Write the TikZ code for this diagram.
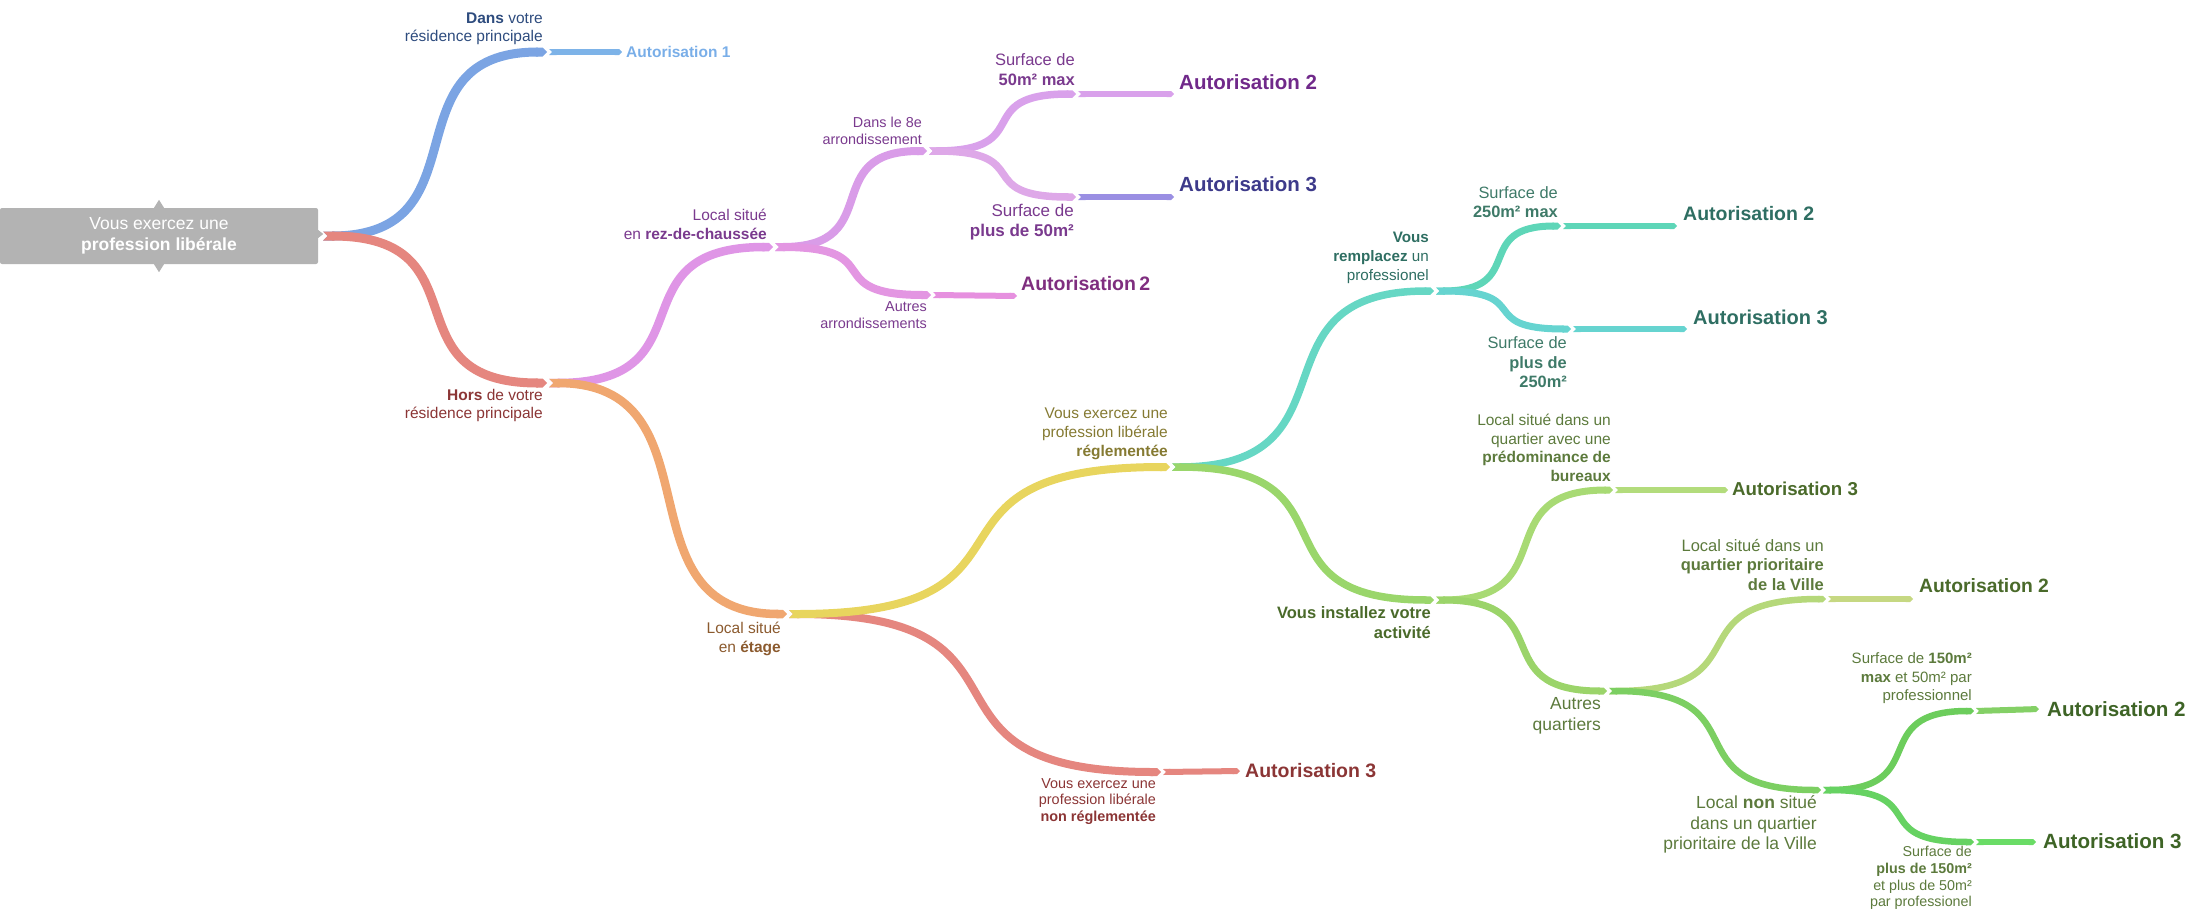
\documentclass[tikz,border=0pt]{standalone}
\usepackage{fontspec}
\setmainfont{Liberation Sans}
\usetikzlibrary{arrows.meta,calc}
\definecolor{cRoot}{HTML}{B3B3B3}
\definecolor{cBlue}{HTML}{7BA4E3}
\definecolor{cBlueL}{HTML}{7DB3E8}
\definecolor{tBlueD}{HTML}{2E4C7E}
\definecolor{tBlueL}{HTML}{79AEE8}
\definecolor{cRed}{HTML}{E5867F}
\definecolor{tRed}{HTML}{8B3535}
\definecolor{cPink}{HTML}{DF95E6}
\definecolor{cPurpA}{HTML}{D99CE8}
\definecolor{cPurpB}{HTML}{D9A1EB}
\definecolor{cPurpC}{HTML}{DEA8E8}
\definecolor{cIndigo}{HTML}{9A8FE3}
\definecolor{cPinkB}{HTML}{E396E2}
\definecolor{cPinkLeaf}{HTML}{E690DF}
\definecolor{tPurp}{HTML}{7A3A8E}
\definecolor{tPurpD}{HTML}{70298A}
\definecolor{tIndigo}{HTML}{3D3A8A}
\definecolor{tMag}{HTML}{7F2E7F}
\definecolor{cOrange}{HTML}{F0A770}
\definecolor{tBrown}{HTML}{8B5A2E}
\definecolor{cYellow}{HTML}{E8D55E}
\definecolor{tOlive}{HTML}{857A32}
\definecolor{cTeal}{HTML}{66D7C4}
\definecolor{cTealB}{HTML}{5ED6B8}
\definecolor{cTealC}{HTML}{66D4D0}
\definecolor{tTeal}{HTML}{2E6E62}
\definecolor{tTealL}{HTML}{3E7A68}
\definecolor{cGreen}{HTML}{9AD66B}
\definecolor{cGreenB}{HTML}{A8DA74}
\definecolor{cLeafF}{HTML}{B3DC7C}
\definecolor{cGreenC}{HTML}{9BD46A}
\definecolor{cGreenD}{HTML}{B5D87A}
\definecolor{cLeafH}{HTML}{C6D882}
\definecolor{cGreenE}{HTML}{7CCF62}
\definecolor{cGreenF}{HTML}{6CCD5C}
\definecolor{cLeafJ}{HTML}{84D066}
\definecolor{cGreenG}{HTML}{66D262}
\definecolor{cLeafK}{HTML}{6ADC66}
\definecolor{tGreen}{HTML}{5C7A3C}
\definecolor{tGreenD}{HTML}{4A6A2A}
\definecolor{tGreenA}{HTML}{3E6426}
\newcommand\myfs[2]{\fontsize{#1}{#2}\selectfont}
\tikzset{
  sbend/.style={to path={let \p1=(\tikztostart), \p2=(\tikztotarget) in
     .. controls ({\x1+0.73*(\x2-\x1)},\y1) and ({\x1+0.27*(\x2-\x1)},\y2) .. (\tikztotarget)}},
  br/.style={draw=#1, {Triangle Cap[reversed]}-{Triangle Cap}, shorten >=2pt},
  lf/.style={draw=#1, line width=6pt, {Triangle Cap[reversed]}-{Triangle Cap}},
  lbl/.style={anchor=east, align=right, inner sep=0pt, text=#1},
  aut/.style={anchor=west, inner sep=0pt, text=#1},
}
\begin{document}
\begin{tikzpicture}[x=1pt,y=-1pt]
\useasboundingbox (0,0) rectangle (2190,910);
% root
\node[fill=cRoot, rounded corners=2pt, minimum width=318pt, minimum height=56pt, inner sep=0pt,
      text=white, align=center, font=\myfs{17.5}{21}] (root) at (159,236)
      {Vous exercez une\\\textbf{profession libérale}};
\fill[cRoot] ($(root.north)+(-5,0)$) -- ($(root.north)+(0,-8)$) -- ($(root.north)+(5,0)$) -- cycle;
\fill[cRoot] ($(root.south)+(-5,0)$) -- ($(root.south)+(0,8)$) -- ($(root.south)+(5,0)$) -- cycle;
\fill[cRoot] ($(root.east)+(0,-6)$) -- ($(root.east)+(5,-2)$) -- ($(root.east)+(0,2)$) -- cycle;
% junction coordinates
\coordinate (R) at (323,236);
\coordinate (N1) at (549,52);   \coordinate (E1) at (622,52);
\coordinate (N2) at (549,383);
\coordinate (N3) at (775,247);
\coordinate (N4) at (789,614);
\coordinate (N5) at (929,151);
\coordinate (N6) at (933,295);  \coordinate (E6) at (1017,296);
\coordinate (N7) at (1078,94);  \coordinate (E7) at (1174,94);
\coordinate (N8) at (1078,197); \coordinate (E8) at (1174,197);
\coordinate (N9) at (1172,467);
\coordinate (N10) at (1163,772); \coordinate (E10) at (1240,771);
\coordinate (N11) at (1436,291);
\coordinate (N12) at (1436,600);
\coordinate (N13) at (1563,226); \coordinate (E13) at (1677,226);
\coordinate (N14) at (1573,329); \coordinate (E14) at (1687,329);
\coordinate (N15) at (1615,490); \coordinate (E15) at (1728,490);
\coordinate (N16) at (1609,691);
\coordinate (N17) at (1828,599); \coordinate (E17) at (1913,599);
\coordinate (N18) at (1823,790);
\coordinate (N19) at (1976,711); \coordinate (E19) at (2039,709);
\coordinate (N20) at (1976,842); \coordinate (E20) at (2036,842);
% branches
\draw[br=cBlue, line width=9pt] (R) to[sbend] (N1);
\draw[br=cRed, line width=9pt] (R) to[sbend] (N2);
\draw[br=cPink, line width=8.5pt] (N2) to[sbend] (N3);
\draw[br=cOrange, line width=8.5pt] (N2) to[sbend] (N4);
\draw[br=cPurpA, line width=8pt] (N3) to[sbend] (N5);
\draw[br=cPinkB, line width=8pt] (N3) to[sbend] (N6);
\draw[br=cPurpB, line width=7.5pt] (N5) to[sbend] (N7);
\draw[br=cPurpC, line width=7.5pt] (N5) to[sbend] (N8);
\draw[br=cRed, line width=8pt] (N4) to[sbend] (N10);
\draw[br=cYellow, line width=8pt] (N4) to[sbend] (N9);
\draw[br=cTeal, line width=7.5pt] (N9) to[sbend] (N11);
\draw[br=cGreen, line width=7.5pt] (N9) to[sbend] (N12);
\draw[br=cTealB, line width=7pt] (N11) to[sbend] (N13);
\draw[br=cTealC, line width=7pt] (N11) to[sbend] (N14);
\draw[br=cGreenB, line width=7pt] (N12) to[sbend] (N15);
\draw[br=cGreenC, line width=7pt] (N12) to[sbend] (N16);
\draw[br=cGreenD, line width=6.5pt] (N16) to[sbend] (N17);
\draw[br=cGreenE, line width=6.5pt] (N16) to[sbend] (N18);
\draw[br=cGreenF, line width=6.5pt] (N18) to[sbend] (N19);
\draw[br=cGreenG, line width=6.5pt] (N18) to[sbend] (N20);
% leaves
\draw[lf=cBlueL] (N1) -- (E1);
\draw[lf=cPinkLeaf] (N6) -- (E6);
\draw[lf=cPurpB] (N7) -- (E7);
\draw[lf=cIndigo] (N8) -- (E8);
\draw[lf=cRed] (N10) -- (E10);
\draw[lf=cTealB] (N13) -- (E13);
\draw[lf=cTealC] (N14) -- (E14);
\draw[lf=cLeafF] (N15) -- (E15);
\draw[lf=cLeafH] (N17) -- (E17);
\draw[lf=cLeafJ] (N19) -- (E19);
\draw[lf=cLeafK] (N20) -- (E20);
% leaf texts
\node[aut=tBlueL, font=\bfseries\myfs{15.5}{18}] (A1) at (626,52) {Autorisation 1};
\node[aut=tPurpD, font=\bfseries\myfs{20.5}{24}] (A7) at (1179,82) {Autorisation 2};
\node[aut=tIndigo, font=\bfseries\myfs{20.5}{24}] (A8) at (1179,184) {Autorisation 3};
\node[aut=tMag, font=\bfseries\myfs{19.5}{23}] (A6) at (1021,284) {Autorisation\,2};
\node[aut=tRed, font=\bfseries\myfs{19.5}{23}] (A10) at (1245,771) {Autorisation 3};
\node[aut=tTeal, font=\bfseries\myfs{19.5}{23}] (A13) at (1683,214) {Autorisation 2};
\node[aut=tTeal, font=\bfseries\myfs{20}{23}] (A14) at (1693,317) {Autorisation 3};
\node[aut=tGreenD, font=\bfseries\myfs{18.7}{22}] (A15) at (1732,489) {Autorisation 3};
\node[aut=tGreenD, font=\bfseries\myfs{19.3}{22}] (A17) at (1919,586) {Autorisation 2};
\node[aut=tGreenA, font=\bfseries\myfs{20.6}{24}] (A19) at (2047,709) {Autorisation 2};
\node[aut=tGreenA, font=\bfseries\myfs{20.6}{24}] (A20) at (2043,841) {Autorisation 3};
% branch labels
\node[lbl=tBlueD, font=\myfs{15.5}{18}] (L1) at (543,29) {\textbf{Dans} votre\\résidence principale};
\node[lbl=tRed, font=\myfs{15.5}{18}] (L2) at (543,405) {\textbf{Hors} de votre\\résidence principale};
\node[lbl=tPurp, font=\myfs{15.5}{19}] (L3) at (767,224.5) {Local situé\\en \textbf{rez-de-chaussée}};
\node[lbl=tPurp, font=\myfs{14.4}{17}] (L4) at (922,130.5) {Dans le 8e\\arrondissement};
\node[lbl=tPurp, font=\myfs{14.4}{17}] (L5) at (927,315.5) {Autres\\arrondissements};
\node[lbl=tPurp, font=\myfs{16.5}{20}] (L6) at (1075,70) {Surface de\\\textbf{50m² max}};
\node[lbl=tPurp, font=\myfs{17}{20}] (L7) at (1074,222) {Surface de\\\textbf{plus de 50m²}};
\node[lbl=tBrown, font=\myfs{15.5}{19}] (L8) at (781,638.5) {Local situé\\en \textbf{étage}};
\node[lbl=tOlive, font=\myfs{15.5}{19}] (L9) at (1168,434) {Vous exercez une\\profession libérale\\\textbf{réglementée}};
\node[lbl=tRed, font=\myfs{14.4}{16.5}] (L10) at (1156,801.5) {Vous exercez une\\profession libérale\\\textbf{non réglementée}};
\node[lbl=tTeal, font=\myfs{15.2}{19}] (L11) at (1429,258) {\textbf{Vous}\\\textbf{remplacez} un\\professionel};
\node[lbl=tGreenD, font=\bfseries\myfs{16.5}{20}] (L12) at (1431,623) {Vous installez votre\\activité};
\node[lbl=tTealL, font=\myfs{16.4}{19.5}] (L13) at (1558,202) {Surface de\\\textbf{250m² max}};
\node[lbl=tTealL, font=\myfs{16.4}{19.5}] (L14) at (1567,362.5) {Surface de\\\textbf{plus de}\\\textbf{250m²}};
\node[lbl=tGreen, font=\myfs{15.5}{18.7}] (L15) at (1611,448) {Local situé dans un\\quartier avec une\\\textbf{prédominance de}\\\textbf{bureaux}};
\node[lbl=tGreen, font=\myfs{17.5}{20.5}] (L16) at (1601,716) {Autres\\quartiers};
\node[lbl=tGreen, font=\myfs{16.5}{19.5}] (L17) at (1824,564.5) {Local situé dans un\\\textbf{quartier prioritaire}\\\textbf{de la Ville}};
\node[lbl=tGreen, font=\myfs{17.5}{20.5}] (L18) at (1817,824.5) {Local \textbf{non} situé\\dans un quartier\\prioritaire de la Ville};
\node[lbl=tGreen, font=\myfs{15}{18.5}] (L19) at (1972,678.5) {Surface de \textbf{150m²}\\\textbf{max} et 50m² par\\professionnel};
\node[lbl=tGreen, font=\myfs{14.3}{16.7}] (L20) at (1972,878) {Surface de\\\textbf{plus de 150m²}\\et plus de 50m²\\par professionel};
\end{tikzpicture}
\end{document}
